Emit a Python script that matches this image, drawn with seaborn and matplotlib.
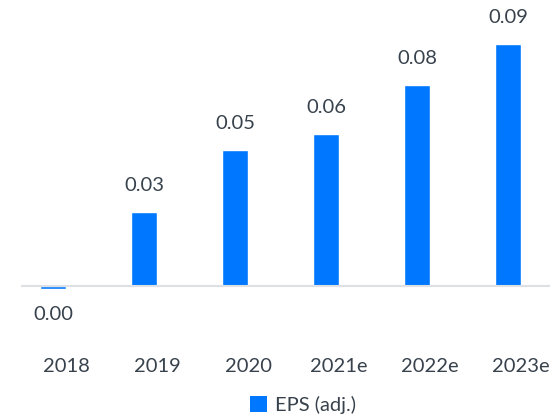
import matplotlib
matplotlib.use("Agg")
import matplotlib.pyplot as plt
import matplotlib.transforms as mtransforms
from matplotlib.patches import Patch
import seaborn as sns
import pandas as pd

years = ["2018", "2019", "2020", "2021e", "2022e", "2023e"]
eps = [-0.0012, 0.0297, 0.0544, 0.0608, 0.0804, 0.0968]
value_labels = ["0.00", "0.03", "0.05", "0.06", "0.08", "0.09"]
series_name = "EPS (adj.)"

blue = "#0077FF"
text_c = "#38424C"
grid_c = "#DDE1E5"

sns.set_theme(style="white")
plt.rcParams["font.family"] = ["Lato", "DejaVu Sans"]

df = pd.DataFrame({"year": years, "eps": eps})

fig = plt.figure(figsize=(5.5, 4.15), dpi=100)
W, H = 550, 415
ax_top_px, ax_bot_px = 10, 300
ax = fig.add_axes([21 / W, 1 - ax_bot_px / H, 1 - 21 / W, (ax_bot_px - ax_top_px) / H])

sns.barplot(data=df, x="year", y="eps", color=blue, width=0.286, saturation=1, ax=ax, zorder=2)

k = 2500.0
base_px = 286
ax.set_ylim(-(ax_bot_px - base_px) / k, (base_px - ax_top_px) / k)
ax.set_xlim(-0.352, 5.46)

ax.axhline(0.0002, color=grid_c, lw=1.5, zorder=3)

for i, (v, lab) in enumerate(zip(eps, value_labels)):
    off = 19 if v >= 0 else -18
    ax.annotate(lab, (i, v), xytext=(0, off), textcoords="offset points",
                ha="center", va="center", fontsize=14.5, color=text_c)

for s in ax.spines.values():
    s.set_visible(False)
ax.set_yticks([])
ax.set_xlabel("")
ax.set_ylabel("")
ax.tick_params(axis="x", length=0, labelsize=14.5, labelcolor=text_c, pad=42)
shift = mtransforms.ScaledTranslation(13 / 100, 0, fig.dpi_scale_trans)
for t in ax.get_xticklabels():
    t.set_transform(t.get_transform() + shift)

handle = Patch(facecolor=blue, edgecolor="none", label=series_name)
fig.legend(handles=[handle], loc="center", bbox_to_anchor=(303 / W, 1 - 405 / H),
           frameon=False, fontsize=14.5, labelcolor=text_c, handlelength=0.85,
           handleheight=0.85, handletextpad=0.4)

fig.savefig("out.png", dpi=100)
